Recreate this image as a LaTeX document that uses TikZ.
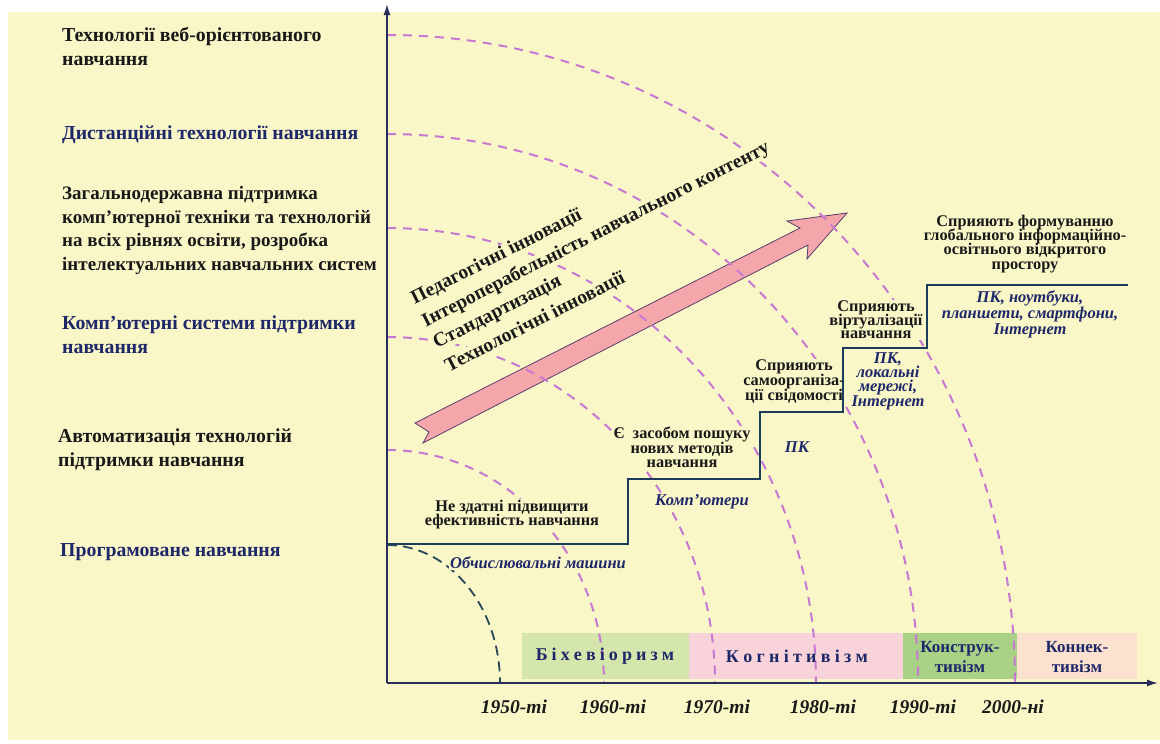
\documentclass[tikz,border=0pt]{standalone}
\usepackage{fontspec}
\setmainfont{Liberation Serif}
\usetikzlibrary{arrows.meta}
\definecolor{bg}{RGB}{249,246,200}
\definecolor{navy}{RGB}{30,40,105}
\definecolor{txt}{RGB}{25,25,25}
\definecolor{arcpink}{RGB}{198,120,210}
\definecolor{arcdark}{RGB}{40,72,90}
\definecolor{stair}{RGB}{28,60,92}
\definecolor{axis}{RGB}{40,45,90}
\definecolor{arrowfill}{RGB}{244,166,170}
\definecolor{arrowline}{RGB}{90,62,110}
\definecolor{greenA}{RGB}{212,230,172}
\definecolor{pinkA}{RGB}{248,211,217}
\definecolor{greenB}{RGB}{170,210,134}
\definecolor{peachA}{RGB}{252,226,206}
\newcommand\kb{\kern4.1pt}
\newcommand\kc{\kern4.3pt}
\newcommand\tightlines{\lineskiplimit=-30pt\relax}
\begin{document}
\begin{tikzpicture}[x=1pt,y=-1pt,
  leftlbl/.style={font=\bfseries\fontsize{19.8}{24}\selectfont, align=left, anchor=west, inner sep=1pt, text=txt},
  leftblue/.style={leftlbl, text=navy},
  steplbl/.style={font=\bfseries\fontsize{16.3}{14.6}\selectfont\tightlines, align=center, inner sep=1pt, fill=bg, text=txt},
  bluelbl/.style={font=\bfseries\itshape\fontsize{16.5}{14.4}\selectfont\tightlines, align=center, inner sep=1pt, fill=bg, text=navy},
  arrowtxt/.style={font=\bfseries\fontsize{19.6}{24}\selectfont, rotate=27, anchor=west, inner sep=0.5pt, fill=bg, text=txt},
  yearlbl/.style={font=\bfseries\itshape\fontsize{19.5}{20}\selectfont, text=txt, inner sep=1pt},
  boxlbl/.style={font=\bfseries\fontsize{17}{20.5}\selectfont, align=center, text=navy, inner sep=0pt},
  spacedlbl/.style={font=\bfseries\fontsize{18}{20}\selectfont, text=navy, inner sep=0pt},
  arcp/.style={draw=arcpink, line width=2pt, dash pattern=on 9pt off 7pt},
  arcd/.style={draw=arcdark, line width=1.8pt, dash pattern=on 10pt off 6pt},
  stairline/.style={draw=stair, line width=2.6pt, line join=miter},
  axisline/.style={draw=axis, line width=1.5pt, -{Latex[length=11pt,width=7pt]}}
]
\useasboundingbox (0,0) rectangle (1160,744);
\fill[white] (0,0) rectangle (1160,744);
\fill[bg] (8,12) rectangle (1160,740);

% paradigm boxes
\fill[greenA] (522,633) rectangle (689,679);
\fill[pinkA] (689,633) rectangle (903,679);
\fill[greenB] (903,633) rectangle (1017,679);
\fill[peachA] (1017,633) rectangle (1137,679);

% big arrow
\filldraw[fill=arrowfill, draw=arrowline, line width=0.8pt, line join=miter]
  (415,423) -- (800,228) -- (787,221) -- (847,213) -- (807,259) -- (808,245) -- (423,443) -- (429,432) -- cycle;

% arcs
\draw[arcd] (387,545) .. controls (449.4,545) and (500,606.8) .. (500,683);
\draw[arcp] (387,450) .. controls (506.8,450) and (604,554.3) .. (604,683);
\draw[arcp] (387,337) .. controls (568.2,337) and (715,491.9) .. (715,683);
\draw[arcp] (387,228) .. controls (623.9,228) and (816,431.7) .. (816,683);
\draw[arcp] (387,134) .. controls (680.3,134) and (918,379.8) .. (918,683);
\draw[arcp] (387,35) .. controls (733.8,35) and (1015,325.1) .. (1015,683);

% left labels
\node[leftlbl] (l1) at (61,46.5) {Технології веб-орієнтованого\\навчання};
\node[leftblue] (l2) at (61,135) {Дистанційні технології навчання};
\node[leftlbl, font=\bfseries\fontsize{19}{23.7}\selectfont] (l3) at (61,230.5) {Загальнодержавна підтримка\\комп’ютерної техніки та технологій\\на всіх рівнях освіти, розробка\\інтелектуальних навчальних систем};
\node[leftblue] (l4) at (61,334.5) {Комп’ютерні системи підтримки\\навчання};
\node[leftlbl] (l5) at (57,449.5) {Автоматизація технологій\\підтримки навчання};
\node[leftblue] (l6) at (59,552) {Програмоване навчання};

% arrow texts
\node[arrowtxt] (a1) at (412,300) {Педагогічні інновації};
\node[arrowtxt] (a2) at (423,323) {Інтероперабельність навчального контенту};
\node[arrowtxt] (a3) at (434,345) {Стандартизація};
\node[arrowtxt] (a4) at (446,368) {Технологічні інновації};

% step labels
\node[steplbl] (s1) at (512,514.5) {Не здатні підвищити\\ефективність навчання};
\node[steplbl] (s2) at (682,447.5) {Є\enspace засобом пошуку\\нових методів\\навчання};
\node[steplbl] (s3) at (794,381.5) {Сприяють\\самоорганіза-\\ції свідомості};
\node[steplbl, font=\bfseries\fontsize{16.3}{13.4}\selectfont\tightlines] (s4) at (876,320) {Сприяють\\віртуалізації\\навчання};
\node[steplbl, font=\bfseries\fontsize{16.3}{14.2}\selectfont\tightlines] (s5) at (1025,244) {Сприяють формуванню\\глобального інформаційно-\\освітнього відкритого\\простору};

% blue italic labels
\node[bluelbl] (b1) at (538,563) {Обчислювальні машини};
\node[bluelbl] (b2) at (702,502) {Комп’ютери};
\node[bluelbl] (b3) at (797,447) {ПК};
\node[bluelbl] (b4) at (888,381) {ПК,\\локальні\\мережі,\\Інтернет};
\node[bluelbl, font=\bfseries\itshape\fontsize{16.5}{16}\selectfont\tightlines] (b5) at (1030,314) {ПК, ноутбуки,\\планшети, смартфони,\\Інтернет};

% staircase
\draw[stairline] (387,544) -- (628,544) -- (628,479) -- (760,479) -- (760,412) -- (843,412) -- (843,348) -- (927,348) -- (927,285) -- (1128,285);

% axes
\coordinate (O) at (387,683);
\coordinate (ytop) at (387,4);
\coordinate (xend) at (1158,683);
\draw[axisline] (O) -- (ytop);
\draw[axisline] (O) -- (xend);

% box labels
\node[spacedlbl] (p1) at (605,656) {Б\kb і\kb х\kb е\kb в\kb і\kb о\kb р\kb и\kb з\kb м};
\node[spacedlbl] (p2) at (797,656) {К\kc о\kc г\kc н\kc і\kc т\kc и\kc в\kc і\kc з\kc м};
\node[boxlbl] (p3) at (960,657) {Конструк-\\тивізм};
\node[boxlbl] (p4) at (1077,657) {Коннек-\\тивізм};

% years
\node[yearlbl] (y1) at (514,707) {1950-ті};
\node[yearlbl] (y2) at (613,707) {1960-ті};
\node[yearlbl] (y3) at (717,707) {1970-ті};
\node[yearlbl] (y4) at (823,707) {1980-ті};
\node[yearlbl] (y5) at (923,707) {1990-ті};
\node[yearlbl] (y6) at (1013,707) {2000-ні};
\end{tikzpicture}
\end{document}
